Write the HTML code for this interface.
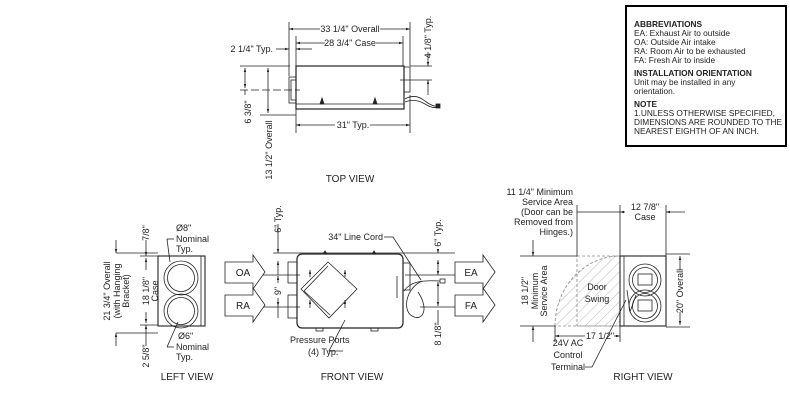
<!DOCTYPE html>
<html><head><meta charset="utf-8"><style>
html,body{margin:0;padding:0;background:#fff}
svg{display:block}
text{font-family:"Liberation Sans",sans-serif;font-size:9px;fill:#222}
</style></head><body>
<svg width="790" height="400" viewBox="0 0 790 400" xmlns="http://www.w3.org/2000/svg">
<defs>
<marker id="a" viewBox="0 0 10 10" refX="10" refY="5" markerWidth="5" markerHeight="5" orient="auto-start-reverse"><path d="M0,2 L10,5 L0,8z" fill="#222"/></marker>
<pattern id="h" width="7" height="7" patternUnits="userSpaceOnUse" patternTransform="rotate(45)"><line x1="0" y1="0" x2="0" y2="7" stroke="#999" stroke-width="0.7"/></pattern>
</defs>
<g stroke="#222" stroke-width="0.8" fill="none">
<!-- TOP VIEW -->
<rect x="296" y="66" width="108" height="43" stroke-width="1.2"/>
<line x1="296" y1="104" x2="404" y2="104"/>
<rect x="289" y="77" width="7" height="26"/><rect x="291" y="80" width="5" height="20"/>
<rect x="404" y="67" width="6" height="25"/>
<path d="M320,104 l2,-6 l2,6z M373,104 l2,-6 l2,6z" fill="#222"/>
<path d="M405,99 q10,-6 20,2 q8,6 12,5"/><path d="M405,102 q10,-4 20,2 q8,5 12,3"/>
<rect x="436" y="104" width="4" height="4" fill="#222"/>
<line x1="289" y1="22" x2="289" y2="76"/><line x1="410" y1="22" x2="410" y2="66"/>
<line x1="296" y1="36" x2="296" y2="66"/><line x1="403" y1="36" x2="403" y2="66"/>
<line x1="289" y1="29" x2="320" y2="29" marker-start="url(#a)"/><line x1="380" y1="29" x2="410" y2="29" marker-end="url(#a)"/>
<line x1="296" y1="43" x2="325" y2="43" marker-start="url(#a)"/><line x1="376" y1="43" x2="403" y2="43" marker-end="url(#a)"/>
<line x1="276" y1="49" x2="289" y2="49" marker-end="url(#a)"/><line x1="312" y1="49" x2="296" y2="49" marker-end="url(#a)"/>
<line x1="296" y1="109" x2="296" y2="133"/><line x1="410" y1="95" x2="410" y2="133"/>
<line x1="296" y1="125" x2="335" y2="125" marker-start="url(#a)"/><line x1="370" y1="125" x2="410" y2="125" marker-end="url(#a)"/>
<line x1="240" y1="66" x2="290" y2="66"/><line x1="240" y1="90" x2="300" y2="90" stroke-dasharray="8 3"/>
<line x1="260" y1="115" x2="296" y2="115"/>
<line x1="245" y1="68" x2="245" y2="88" marker-start="url(#a)" marker-end="url(#a)"/>
<line x1="245" y1="90" x2="245" y2="95"/>
<line x1="268" y1="68" x2="268" y2="113" marker-start="url(#a)" marker-end="url(#a)"/>
<line x1="410" y1="66" x2="432" y2="66"/><line x1="400" y1="80" x2="432" y2="80"/>
<line x1="428" y1="52" x2="428" y2="66" marker-end="url(#a)"/><line x1="428" y1="95" x2="428" y2="80" marker-end="url(#a)"/>
<!-- FRONT VIEW -->
<rect x="297" y="254" width="106" height="74" rx="5" stroke-width="1.2"/>
<rect x="288" y="262" width="9" height="21"/><rect x="288" y="295" width="9" height="23"/>
<rect x="403" y="263" width="7" height="27"/>
<path d="M301,289 L328,262 L357,289 L329,318z"/><path d="M304,291 L328,266"/><path d="M304,291 L330,315"/>
<path d="M323,254 l2,-3 l2,3z M372,254 l2,-3 l2,3z" fill="#222"/>
<rect x="316" y="328" width="7" height="3"/><rect x="371" y="328" width="7" height="3"/>
<line x1="310" y1="270" x2="310" y2="277" marker-start="url(#a)"/><line x1="345" y1="270" x2="345" y2="277" marker-start="url(#a)"/>
<line x1="310" y1="300" x2="310" y2="308" marker-start="url(#a)"/><line x1="345" y1="300" x2="345" y2="308" marker-start="url(#a)"/>
<line x1="397" y1="276" x2="397" y2="298"/>
<path d="M404,291 C410,282 420,280 440,281"/>
<path d="M422,281 C406,288 402,310 412,316 C422,322 430,310 418,292"/>
<rect x="440" y="279" width="5" height="4"/>
<line x1="273" y1="253" x2="455" y2="253"/>
<line x1="263" y1="275" x2="300" y2="275"/><line x1="263" y1="307" x2="300" y2="307"/>
<line x1="278" y1="224" x2="278" y2="253" marker-end="url(#a)"/><line x1="278" y1="275" x2="278" y2="261" marker-end="url(#a)"/>
<line x1="278" y1="276" x2="278" y2="283" marker-start="url(#a)"/><line x1="278" y1="298" x2="278" y2="306" marker-end="url(#a)"/>
<line x1="278" y1="306" x2="278" y2="318"/>
<line x1="438" y1="250" x2="438" y2="253" marker-end="url(#a)"/>
<line x1="405" y1="275" x2="455" y2="275"/><line x1="420" y1="307" x2="455" y2="307"/>
<line x1="438" y1="260" x2="438" y2="275" marker-start="url(#a)" marker-end="url(#a)"/>
<line x1="438" y1="282" x2="438" y2="306" marker-start="url(#a)" marker-end="url(#a)"/>
<line x1="438" y1="310" x2="438" y2="325"/>
<path d="M384,237 L393,237 L421,280"/>
<path d="M343,351 L329,351 L345,320"/>
<!-- arrows -->
<path d="M225,262 H253 V255 L265,272 L253,289 V283 H225z"/>
<path d="M225,295 H253 V288 L265,305 L253,322 V316 H225z"/>
<path d="M455,262 H483 V255 L495,272 L483,289 V283 H455z"/>
<path d="M455,295 H483 V288 L495,305 L483,322 V316 H455z"/>
<!-- LEFT VIEW -->
<rect x="158" y="256" width="47" height="70" stroke-width="1.1"/>
<line x1="201" y1="256" x2="201" y2="326"/>
<circle cx="181" cy="278" r="17"/><circle cx="181" cy="278" r="13.5"/>
<circle cx="181" cy="311" r="17"/><circle cx="181" cy="311" r="13.5"/>
<line x1="116" y1="253" x2="158" y2="253"/><line x1="140" y1="256" x2="158" y2="256"/>
<line x1="140" y1="325" x2="158" y2="325"/><line x1="116" y1="333" x2="158" y2="333"/>
<line x1="116" y1="240" x2="116" y2="253" marker-end="url(#a)"/><line x1="116" y1="346" x2="116" y2="333" marker-end="url(#a)"/>
<line x1="146" y1="258" x2="146" y2="270" marker-start="url(#a)"/><line x1="146" y1="312" x2="146" y2="323" marker-end="url(#a)"/>
<line x1="146" y1="240" x2="146" y2="256" marker-end="url(#a)"/>
<line x1="146" y1="346" x2="146" y2="325" marker-end="url(#a)"/>
<line x1="167" y1="239" x2="174" y2="239"/><line x1="167" y1="239" x2="170" y2="262"/>
<line x1="167" y1="347" x2="174" y2="347"/><line x1="167" y1="347" x2="178" y2="322"/>
<!-- RIGHT VIEW -->
<path d="M555,326 A65,70 0 0 1 620,256 V326z" fill="url(#h)" stroke="#888" stroke-dasharray="3 2"/>
<rect x="577" y="256" width="43" height="70" stroke="#888" stroke-dasharray="3 2"/>
<rect x="620" y="256" width="46" height="70" stroke-width="1.1"/>
<line x1="624" y1="256" x2="624" y2="326"/>
<circle cx="645" cy="280" r="16"/><circle cx="645" cy="280" r="12.5"/><rect x="638" y="274" width="14" height="11"/>
<circle cx="645" cy="306" r="16"/><circle cx="645" cy="306" r="12.5"/><rect x="638" y="300" width="14" height="11"/>
<path d="M627,290 L630,312 L636,295"/>
<line x1="577" y1="205" x2="577" y2="256"/><line x1="620" y1="205" x2="620" y2="256"/><line x1="666" y1="205" x2="666" y2="256"/>
<line x1="577" y1="212" x2="620" y2="212"/>
<line x1="625" y1="212" x2="620" y2="212" marker-end="url(#a)"/><line x1="685" y1="212" x2="666" y2="212" marker-end="url(#a)"/>
<line x1="520" y1="256" x2="577" y2="256"/><line x1="520" y1="326" x2="555" y2="326"/>
<line x1="533" y1="240" x2="533" y2="256" marker-end="url(#a)"/><line x1="533" y1="342" x2="533" y2="326" marker-end="url(#a)"/>
<line x1="666" y1="254" x2="690" y2="254"/><line x1="666" y1="327" x2="690" y2="327"/>
<line x1="680" y1="256" x2="680" y2="270" marker-start="url(#a)"/><line x1="680" y1="312" x2="680" y2="325" marker-end="url(#a)"/>
<line x1="555" y1="326" x2="555" y2="342"/><line x1="620" y1="326" x2="620" y2="342"/>
<line x1="555" y1="336" x2="585" y2="336" marker-start="url(#a)"/><line x1="614" y1="336" x2="620" y2="336" marker-end="url(#a)"/>
<path d="M585,367 L592,367 L626,300"/>
<!-- legend box -->
<rect x="626" y="6" width="160" height="140" stroke="#000" stroke-width="2"/>
</g>
<!-- TEXT -->
<text x="350" y="32" text-anchor="middle">33 1/4" Overall</text>
<text x="350" y="46" text-anchor="middle">28 3/4" Case</text>
<text x="273" y="52" text-anchor="end">2 1/4" Typ.</text>
<text x="353" y="128" text-anchor="middle">31" Typ.</text>
<text transform="translate(431,37) rotate(-90)" text-anchor="middle">4 1/8" Typ.</text>
<text transform="translate(251,112) rotate(-90)" text-anchor="middle">6 3/8"</text>
<text transform="translate(272,150) rotate(-90)" text-anchor="middle">13 1/2" Overall</text>
<text x="350" y="182" text-anchor="middle" style="font-size:10px">TOP VIEW</text>

<text x="243" y="276" text-anchor="middle" style="font-size:10px">OA</text>
<text x="243" y="309" text-anchor="middle" style="font-size:10px">RA</text>
<text x="471" y="276" text-anchor="middle" style="font-size:10px">EA</text>
<text x="471" y="309" text-anchor="middle" style="font-size:10px">FA</text>
<text x="383" y="240" text-anchor="end">34" Line Cord</text>
<text transform="translate(281,219) rotate(-90)" text-anchor="middle">6" Typ.</text>
<text transform="translate(281,291) rotate(-90)" text-anchor="middle">9"</text>
<text transform="translate(441,233) rotate(-90)" text-anchor="middle">6" Typ.</text>
<text transform="translate(441,334) rotate(-90)" text-anchor="middle">8 1/8"</text>
<text x="290" y="343">Pressure Ports</text>
<text x="308" y="355">(4) Typ.</text>
<text x="352" y="380" text-anchor="middle" style="font-size:10px">FRONT VIEW</text>

<text x="176" y="231">Ø8"</text><text x="176" y="242">Nominal</text><text x="176" y="252">Typ.</text>
<text x="178" y="339">Ø6"</text><text x="176" y="350">Nominal</text><text x="176" y="360">Typ.</text>
<text transform="translate(110,291) rotate(-90)" text-anchor="middle">21 3/4" Overall</text>
<text transform="translate(120,291) rotate(-90)" text-anchor="middle">(with Hanging</text>
<text transform="translate(129,291) rotate(-90)" text-anchor="middle">Bracket)</text>
<text transform="translate(149,291) rotate(-90)" text-anchor="middle">18 1/8"</text>
<text transform="translate(158,291) rotate(-90)" text-anchor="middle">Case</text>
<text transform="translate(149,233) rotate(-90)" text-anchor="middle">7/8"</text>
<text transform="translate(149,356) rotate(-90)" text-anchor="middle">2 5/8"</text>
<text x="187" y="380" text-anchor="middle" style="font-size:10px">LEFT VIEW</text>

<text x="573" y="195" text-anchor="end">11 1/4" Minimum</text>
<text x="573" y="205" text-anchor="end">Service Area</text>
<text x="573" y="215" text-anchor="end">(Door can be</text>
<text x="573" y="225" text-anchor="end">Removed from</text>
<text x="573" y="235" text-anchor="end">Hinges.)</text>
<text x="645" y="210" text-anchor="middle">12 7/8"</text>
<text x="645" y="220" text-anchor="middle">Case</text>
<text x="597" y="290" text-anchor="middle">Door</text>
<text x="597" y="302" text-anchor="middle">Swing</text>
<text transform="translate(528,291) rotate(-90)" text-anchor="middle">18 1/2"</text>
<text transform="translate(538,291) rotate(-90)" text-anchor="middle">Minimum</text>
<text transform="translate(547,291) rotate(-90)" text-anchor="middle">Service Area</text>
<text transform="translate(683,291) rotate(-90)" text-anchor="middle">20" Overall</text>
<text x="600" y="339" text-anchor="middle">17 1/2"</text>
<text x="568" y="346" text-anchor="middle">24V AC</text>
<text x="568" y="358" text-anchor="middle">Control</text>
<text x="568" y="370" text-anchor="middle">Terminal</text>
<text x="643" y="380" text-anchor="middle" style="font-size:10px">RIGHT VIEW</text>

<g>
<text x="634" y="27" style="font-weight:bold;font-size:8.3px">ABBREVIATIONS</text>
<text x="634" y="36" style="font-size:8.3px">EA: Exhaust Air to outside</text>
<text x="634" y="45" style="font-size:8.3px">OA: Outside Air intake</text>
<text x="634" y="54" style="font-size:8.3px">RA: Room Air to be exhausted</text>
<text x="634" y="63" style="font-size:8.3px">FA: Fresh Air to inside</text>
<text x="634" y="76" style="font-weight:bold;font-size:8.3px">INSTALLATION ORIENTATION</text>
<text x="634" y="85" style="font-size:8.3px">Unit may be installed in any</text>
<text x="634" y="94" style="font-size:8.3px">orientation.</text>
<text x="634" y="107" style="font-weight:bold;font-size:8.3px">NOTE</text>
<text x="634" y="116" style="font-size:8.3px">1.UNLESS OTHERWISE SPECIFIED,</text>
<text x="634" y="125" style="font-size:8.3px">DIMENSIONS ARE ROUNDED TO THE</text>
<text x="634" y="134" style="font-size:8.3px">NEAREST EIGHTH OF AN INCH.</text>
</g>
</svg>
</body></html>
